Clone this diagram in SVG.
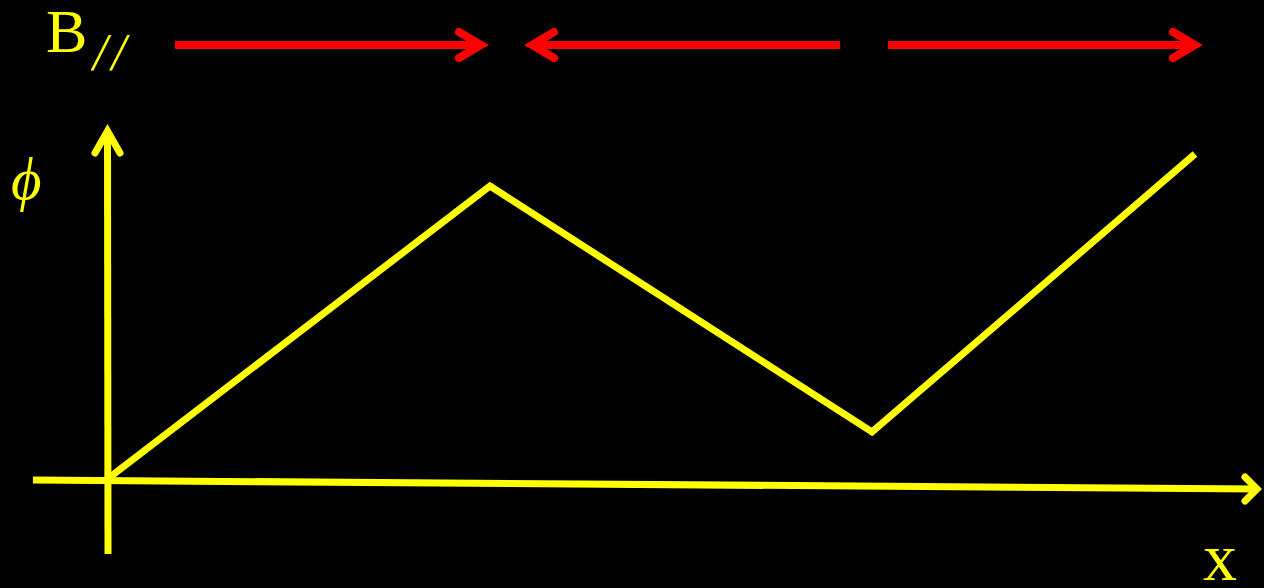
<svg xmlns="http://www.w3.org/2000/svg" width="1264" height="588" viewBox="0 0 1264 588">
<style>
.y{stroke:#ffff00;stroke-width:7;fill:none}
.r{stroke:#ff0000;stroke-width:8;fill:none}
.hy{stroke:#ffff00;stroke-width:7;fill:none;stroke-linecap:round;stroke-linejoin:miter;stroke-miterlimit:10}
.hr{stroke:#ff0000;stroke-width:8;fill:none;stroke-linecap:round;stroke-linejoin:miter;stroke-miterlimit:10}
.t{fill:#ffff00;font-family:"Liberation Serif",serif}
</style>
<rect width="1264" height="588" fill="#000"/>
<g id="labels">
<text class="t" x="46" y="52" font-size="62">B</text>
<text class="t" x="93" y="70" font-size="52" font-style="italic" letter-spacing="4">//</text>
<text class="t" x="11" y="199" font-size="59" font-style="italic">ϕ</text>
<text class="t" x="1203" y="580" font-size="68">x</text>
</g>
<g id="connectors">
<line class="r" x1="175" y1="45" x2="481" y2="45"/>
<polyline class="hr" points="459,32 481,45 459,58"/>
<line class="r" x1="532" y1="45" x2="840" y2="45"/>
<polyline class="hr" points="554,32 532,45 554,58"/>
<line class="r" x1="888" y1="45" x2="1195" y2="45"/>
<polyline class="hr" points="1173,32 1195,45 1173,58"/>
<line class="y" x1="108" y1="554" x2="107.5" y2="131"/>
<polyline class="hy" points="95,153 107.5,131 120,153"/>
<line class="y" x1="33" y1="480" x2="1257" y2="489"/>
<polyline class="hy" points="1245,477 1257,489 1245,501"/>
<polyline class="y" points="110,477 490,186 872,432 1195,154"/>
</g>
</svg>
